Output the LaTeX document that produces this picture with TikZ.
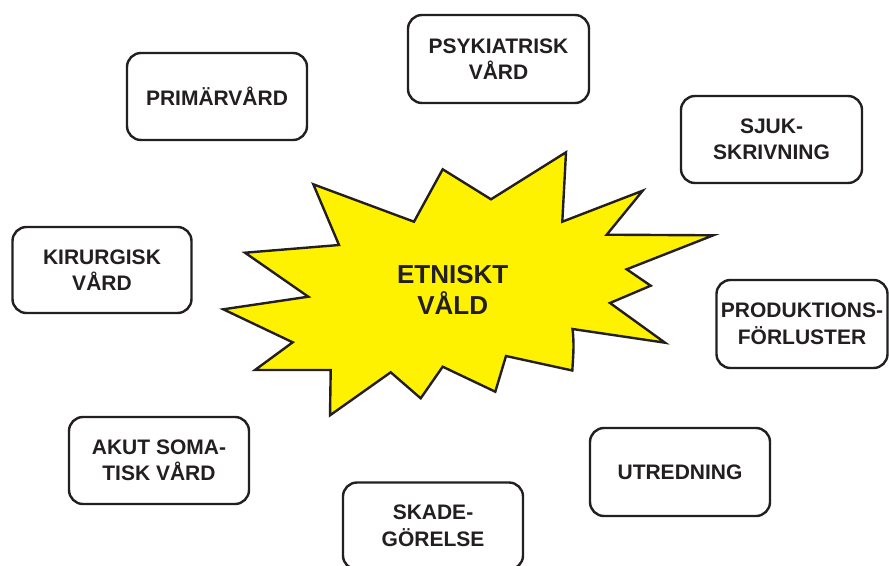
\documentclass[tikz,border=0pt]{standalone}
\usepackage{fontspec}
\setmainfont{Liberation Sans}
\definecolor{ink}{HTML}{231F20}
\definecolor{starfill}{HTML}{FFF200}
\tikzset{
  infobox/.style={draw=ink, line width=2.4pt, rounded corners=14pt, fill=white,
    text=ink, align=center, inner sep=0pt,
    font=\bfseries\fontsize{21}{26.5}\selectfont},
  startext/.style={text=ink, align=center, inner sep=0pt,
    font=\bfseries\fontsize{26}{30.7}\selectfont}
}
\begin{document}
\begin{tikzpicture}[x=1pt,y=-1pt]
\useasboundingbox (0,0) rectangle (889,565);
\clip (0,0) rectangle (889,565);
% star
\draw[ink, line width=2.4pt, fill=starfill, line join=miter]
  (313.3,184.3) -- (414,221.7) -- (442.7,169.3) -- (491,199.3) -- (566,152.3)
  -- (562.3,221.7) -- (642.7,190.7) -- (606.7,234.7) -- (713.3,235.3)
  -- (626.7,269.3) -- (650.7,285.7) -- (610,303) -- (665,342.7)
  -- (572.5,329) .. controls (574.5,345) and (573,358) .. (572.3,370.5)
  -- (506,356) -- (495.3,391.7) -- (442.7,366.7) -- (420.7,398.3)
  -- (390.7,372.3) -- (330,415.3) -- (330.7,370) -- (255,370)
  -- (292.7,342.3) -- (223.3,309.3) -- (308.3,296.7) -- (245,252.7)
  -- (339,245) -- cycle;
\node[startext] (center) at (452.7,290) {ETNISKT\\VÅLD};
% boxes
\node[infobox, minimum width=180pt, minimum height=87pt] (prim) at (217,96.5) {PRIMÄRVÅRD};
\node[infobox, minimum width=181pt, minimum height=88pt] (psyk) at (498.5,59) {PSYKIATRISK\\VÅRD};
\node[infobox, minimum width=181pt, minimum height=87pt] (sjuk) at (771.5,139.5) {SJUK-\\SKRIVNING};
\node[infobox, minimum width=179pt, minimum height=86pt] (kir) at (102,270) {KIRURGISK\\VÅRD};
\node[infobox, minimum width=171pt, minimum height=88pt] (prod) at (802,324) {PRODUKTIONS-\\FÖRLUSTER};
\node[infobox, minimum width=180pt, minimum height=87pt] (akut) at (159,460.5) {AKUT SOMA-\\TISK VÅRD};
\node[infobox, minimum width=180pt, minimum height=88pt] (utred) at (680,472) {UTREDNING};
\node[infobox, minimum width=180pt, minimum height=87pt] (skade) at (433,526) {SKADE-\\GÖRELSE};
\end{tikzpicture}
\end{document}
